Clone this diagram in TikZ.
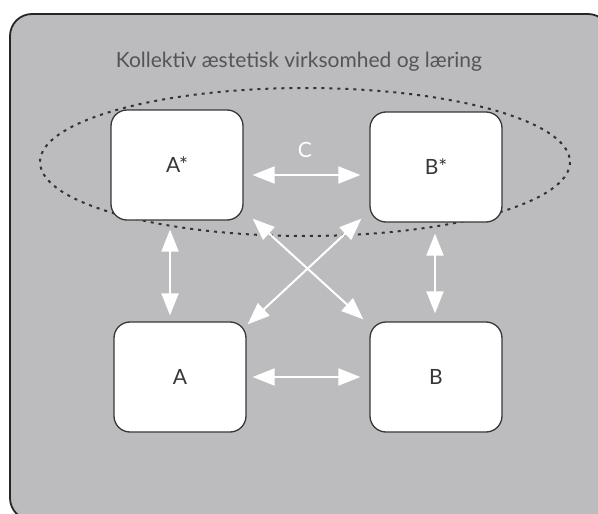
\documentclass[tikz,border=0pt]{standalone}
\usepackage{fontspec}
\setmainfont{Lato}
\usetikzlibrary{arrows.meta}
\definecolor{bggray}{RGB}{188,188,190}
\definecolor{boxline}{RGB}{55,55,55}
\definecolor{titlegray}{RGB}{85,85,85}
\tikzset{
  box/.style={draw=boxline, line width=1.3pt, fill=white, rounded corners=16pt,
    minimum width=132pt, minimum height=110pt, text=boxline, font=\fontsize{21}{24}\selectfont},
  dblarrow/.style={draw=white, line width=2pt,
    {Triangle[length=22pt,width=17pt]}-{Triangle[length=22pt,width=17pt]}}
}
\begin{document}
\begin{tikzpicture}[x=1pt,y=-1pt]
\useasboundingbox (0,0) rectangle (598,514);
\begin{scope}
\clip (0,0) rectangle (598,514);
\draw[fill=bggray, draw=black!85, line width=1.8pt, rounded corners=22pt] (10,14) rectangle (610,520);
\end{scope}
\node[text=titlegray, font=\fontsize{21}{24}\selectfont] (title) at (299,62) {Kollektiv æstetisk virksomhed og læring};
\draw[draw=black!80, line width=2pt, dash pattern=on 3pt off 5pt] (305,162) ellipse [x radius=265, y radius=74];
\node[box] (As) at (177,165) {A*};
\node[box] (Bs) at (436,167) {B*};
\node[box] (A) at (180,377) {A};
\node[box] (B) at (436,377) {B};
\node[text=white, font=\fontsize{21}{24}\selectfont] (C) at (305,150) {C};
\draw[dblarrow] ([xshift=9pt,yshift=-10pt]As.east) -- ([xshift=-9pt,yshift=-8pt]Bs.west);
\draw[dblarrow] ([xshift=6pt]A.east) -- ([xshift=-9pt]B.west);
\draw[dblarrow] ([xshift=-7pt,yshift=-9pt]As.south) -- ([xshift=-10pt,yshift=6pt]A.north);
\draw[dblarrow] ([xshift=-1pt,yshift=-11pt]Bs.south) -- ([xshift=-1pt,yshift=8pt]B.north);
\draw[dblarrow] ([xshift=9pt,yshift=2pt]As.south east) -- ([xshift=-6pt,yshift=2pt]B.north west);
\draw[dblarrow] ([xshift=-8pt,yshift=4pt]Bs.south west) -- ([xshift=1pt,yshift=-3pt]A.north east);
\end{tikzpicture}
\end{document}
